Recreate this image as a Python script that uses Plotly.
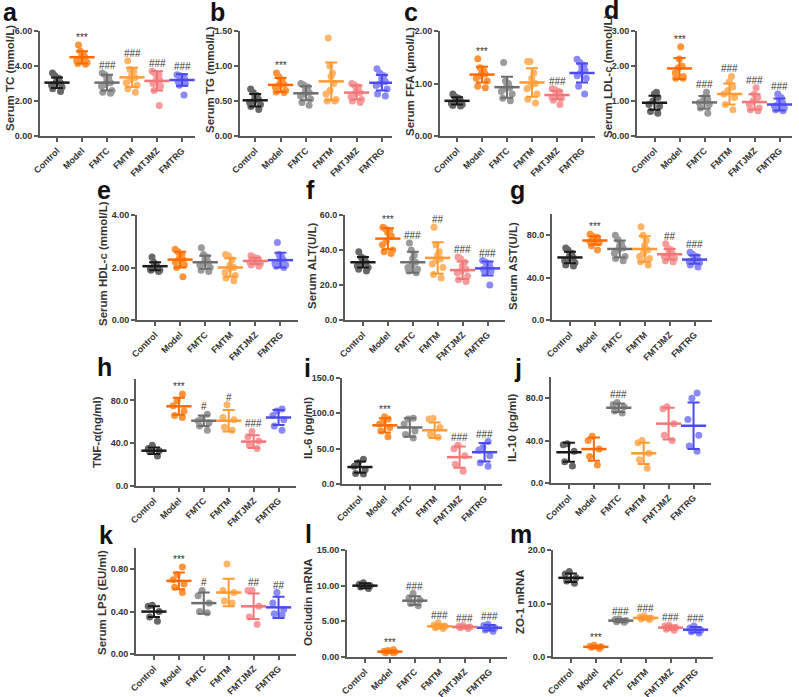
import plotly.graph_objects as go

W, H = 799, 697
groups = ["Control", "Model", "FMTC", "FMTM", "FMTJMZ", "FMTRG"]
mean_colors = ["#1a1a1a", "#ff6a00", "#6e6e6e", "#ff9a30", "#f27676", "#4a4af0"]
dot_colors = ["#686868", "#ff9438", "#9a9a9a", "#ffb468", "#f79a9c", "#8a8af6"]

# ---------------- data ----------------
tc_dots = [[3.6, 3.45, 3.3, 3.15, 3.05, 3.0, 2.9, 2.8, 2.7, 2.55],
           [5.2, 4.85, 4.7, 4.6, 4.5, 4.4, 4.3, 4.2, 4.15, 4.1],
           [3.6, 3.5, 3.35, 3.2, 3.05, 2.95, 2.85, 2.6, 2.5, 2.45],
           [4.3, 3.8, 3.7, 3.5, 3.35, 3.2, 3.05, 2.9, 2.7, 2.5],
           [3.7, 3.6, 3.5, 3.3, 3.2, 3.1, 3.0, 2.85, 2.6, 1.75],
           [3.5, 3.45, 3.4, 3.3, 3.25, 3.2, 3.1, 3.0, 2.9, 2.35]]
tc_mean = [3.05, 4.5, 3.05, 3.35, 3.15, 3.2]
tc_sd = [0.3, 0.35, 0.45, 0.55, 0.55, 0.33]
tc_sig = ["", "***", "###", "###", "###", "###"]

tg_dots = [[0.67, 0.62, 0.58, 0.55, 0.52, 0.5, 0.48, 0.45, 0.42, 0.38],
           [0.9, 0.85, 0.8, 0.76, 0.74, 0.72, 0.7, 0.65, 0.63, 0.62],
           [0.75, 0.73, 0.7, 0.66, 0.62, 0.6, 0.57, 0.53, 0.48, 0.44],
           [1.4, 1.0, 0.9, 0.85, 0.75, 0.65, 0.6, 0.52, 0.5, 0.5],
           [0.75, 0.73, 0.7, 0.66, 0.62, 0.6, 0.56, 0.52, 0.5, 0.48],
           [0.96, 0.9, 0.86, 0.82, 0.78, 0.75, 0.72, 0.67, 0.6, 0.57]]
tg_mean = [0.51, 0.73, 0.61, 0.78, 0.62, 0.76]
tg_sd = [0.09, 0.1, 0.1, 0.27, 0.1, 0.11]
tg_sig = ["", "***", "", "", "", ""]

ffa_dots = [[0.8, 0.75, 0.72, 0.7, 0.68, 0.65, 0.62, 0.6, 0.58, 0.57],
            [1.47, 1.3, 1.25, 1.2, 1.18, 1.15, 1.1, 1.05, 0.95, 0.92],
            [1.4, 1.05, 1.0, 0.95, 0.92, 0.9, 0.85, 0.8, 0.72, 0.67],
            [1.42, 1.42, 1.2, 1.1, 1.0, 0.95, 0.9, 0.8, 0.7, 0.63],
            [0.9, 0.88, 0.85, 0.8, 0.78, 0.76, 0.74, 0.72, 0.68, 0.6],
            [1.46, 1.4, 1.35, 1.3, 1.25, 1.2, 1.15, 1.1, 0.95, 0.8]]
ffa_mean = [0.67, 1.17, 0.93, 1.02, 0.78, 1.2]
ffa_sd = [0.07, 0.15, 0.2, 0.27, 0.08, 0.18]
ffa_sig = ["", "***", "", "", "###", ""]

ldl_dots = [[1.25, 1.2, 1.1, 1.0, 0.9, 0.85, 0.7, 0.65],
            [2.55, 2.2, 2.0, 1.95, 1.8, 1.7, 1.65, 1.65],
            [1.25, 1.1, 1.05, 1.0, 0.95, 0.9, 0.8, 0.65],
            [1.7, 1.55, 1.4, 1.3, 1.2, 1.1, 0.9, 0.75],
            [1.38, 1.2, 1.1, 1.0, 0.9, 0.8, 0.75, 0.72],
            [1.2, 1.1, 1.05, 0.95, 0.9, 0.85, 0.8, 0.75, 0.72]]
ldl_mean = [0.95, 1.93, 0.96, 1.2, 0.97, 0.9]
ldl_sd = [0.2, 0.3, 0.18, 0.3, 0.22, 0.17]
ldl_sig = ["", "***", "###", "###", "###", "###"]

hdl_dots = [[2.4, 2.2, 2.1, 2.05, 2.0, 1.95, 1.9, 1.85, 1.9, 2.0],
            [2.7, 2.6, 2.5, 2.4, 2.3, 2.3, 2.2, 2.1, 2.0, 1.65],
            [2.75, 2.5, 2.4, 2.3, 2.2, 2.15, 2.1, 2.0, 1.9, 1.85],
            [2.5, 2.45, 2.3, 2.1, 2.0, 1.95, 1.8, 1.7, 1.6, 1.5],
            [2.45, 2.4, 2.35, 2.3, 2.25, 2.2, 2.2, 2.15, 2.1, 2.05],
            [2.95, 2.5, 2.4, 2.35, 2.3, 2.2, 2.15, 2.1, 2.05, 2.0]]
hdl_mean = [2.05, 2.3, 2.2, 2.0, 2.25, 2.28]
hdl_sd = [0.15, 0.3, 0.25, 0.35, 0.12, 0.28]
hdl_sig = ["", "", "", "", "", ""]

alt_dots = [[39, 36, 35, 34, 33, 32, 31, 30, 29, 28],
            [53, 52, 51, 50, 48, 45, 43, 40, 39, 38],
            [44, 40, 37, 35, 33, 31, 30, 29, 28, 27],
            [53, 43, 39, 37, 35, 34, 32, 30, 26, 24],
            [36, 35, 33, 31, 29, 28, 27, 25, 23, 22],
            [34, 33, 32, 31, 30, 30, 29, 28, 27, 20]]
alt_mean = [33, 46.5, 33, 35.5, 28.5, 29.5]
alt_sd = [3, 6, 6, 9, 5, 4]
alt_sig = ["", "***", "###", "##", "###", "###"]

ast_dots = [[68, 66, 63, 61, 59, 57, 56, 54, 52, 51],
            [81, 79, 78, 77, 76, 75, 74, 73, 70, 66],
            [80, 76, 72, 70, 68, 66, 63, 60, 58, 56],
            [88, 80, 75, 70, 66, 63, 60, 58, 55, 52],
            [72, 68, 66, 64, 62, 61, 60, 58, 56, 55],
            [64, 62, 60, 58, 57, 56, 55, 54, 52, 50]]
ast_mean = [59, 75, 67, 67, 62, 57]
ast_sd = [5.5, 4, 8, 12, 5, 4]
ast_sig = ["", "***", "", "", "##", "###"]

tnf_dots = [[38, 35, 33, 32, 28],
            [86, 80, 75, 70, 66, 64],
            [67, 63, 61, 59, 56, 52],
            [76, 64, 62, 55, 52],
            [51, 46, 42, 38, 35],
            [72, 70, 66, 62, 56, 52]]
tnf_mean = [33, 74.5, 61, 61, 41.5, 64]
tnf_sd = [3, 8, 5, 10, 6, 7]
tnf_sig = ["", "***", "#", "#", "###", ""]

il6_dots = [[35, 30, 25, 20, 15, 14],
            [95, 92, 88, 85, 80, 75, 67],
            [93, 92, 85, 75, 70, 65],
            [93, 92, 80, 70, 66],
            [55, 50, 40, 28, 18],
            [60, 52, 48, 40, 30, 25]]
il6_mean = [24, 83, 80, 76, 38, 45]
il6_sd = [8, 10, 13, 11, 15, 13]
il6_sig = ["", "***", "", "", "###", "###"]

il10_dots = [[37, 36, 30, 20, 16],
             [44, 40, 32, 25, 17],
             [76, 74, 72, 68, 66],
             [40, 38, 28, 22, 14],
             [72, 70, 56, 45, 40],
             [85, 80, 60, 45, 35, 30]]
il10_mean = [29, 32, 71, 28, 56, 54]
il10_sd = [9, 11, 4, 10, 15, 22]
il10_sig = ["", "", "###", "", "", ""]

lps_dots = [[0.46, 0.45, 0.40, 0.35, 0.31],
            [0.82, 0.75, 0.70, 0.66, 0.63, 0.58],
            [0.60, 0.55, 0.48, 0.40, 0.39],
            [0.85, 0.60, 0.58, 0.50, 0.48],
            [0.60, 0.60, 0.45, 0.35, 0.28],
            [0.58, 0.48, 0.42, 0.38, 0.37]]
lps_mean = [0.40, 0.69, 0.48, 0.58, 0.45, 0.44]
lps_sd = [0.05, 0.08, 0.1, 0.13, 0.12, 0.1]
lps_sig = ["", "***", "#", "", "##", "##"]

occ_dots = [[10.4, 10.2, 10.0, 9.8, 9.6],
            [1.0, 0.9, 0.8, 0.7, 0.6, 0.6],
            [8.9, 8.3, 8.0, 7.5, 7.2],
            [4.8, 4.5, 4.3, 4.1, 4.0],
            [4.4, 4.3, 4.2, 4.1, 4.0],
            [4.6, 4.4, 4.1, 3.8, 3.6]]
occ_mean = [10.0, 0.75, 7.9, 4.3, 4.2, 4.1]
occ_sd = [0.35, 0.15, 0.6, 0.3, 0.2, 0.4]
occ_sig = ["", "***", "###", "###", "###", "###"]

zo_dots = [[16.0, 15.5, 14.8, 14.2, 13.8],
           [2.2, 2.0, 1.9, 1.8, 1.6],
           [7.1, 7.0, 6.8, 6.6, 6.5],
           [7.7, 7.5, 7.3, 7.1, 7.0],
           [6.0, 5.8, 5.5, 5.2, 5.0],
           [5.8, 5.4, 5.0, 4.7, 4.5]]
zo_mean = [14.8, 1.9, 6.8, 7.3, 5.5, 5.1]
zo_sd = [0.8, 0.25, 0.3, 0.3, 0.4, 0.5]
zo_sig = ["", "***", "###", "###", "###", "###"]

# --------------- layout config (pixel boxes) ---------------
panels = [
    dict(letter="a", title="Serum TC (mmol/L)", d=tc_dots, m=tc_mean, s=tc_sd, sig=tc_sig,
         yr=[0, 6], dt=2, fmt=".2f", box=(40, 195, 31, 136), lt=(1, 24), tt=(10, 78), xr=[-0.68, 5.52]),
    dict(letter="b", title="Serum TG (mmol/L)", d=tg_dots, m=tg_mean, s=tg_sd, sig=tg_sig,
         yr=[0, 1.5], dt=0.5, fmt=".2f", box=(240, 392, 31, 136), lt=(208, 24), tt=(210, 80), xr=[-0.6, 5.4]),
    dict(letter="c", title="Serum FFA (μmol/L)", d=ffa_dots, m=ffa_mean, s=ffa_sd, sig=ffa_sig,
         yr=[0, 2], dt=1, fmt=".2f", box=(440, 595, 31, 136), lt=(402, 24), tt=(410, 82), xr=[-0.68, 5.52]),
    dict(letter="d", title="Serum LDL-c (mmol/L)", d=ldl_dots, m=ldl_mean, s=ldl_sd, sig=ldl_sig,
         yr=[0, 3], dt=1, fmt=".2f", box=(637, 792, 31, 136), lt=(602, 22), tt=(608, 77), xr=[-0.7, 5.5]),
    dict(letter="e", title="Serum HDL-c (mmol/L)", d=hdl_dots, m=hdl_mean, s=hdl_sd, sig=hdl_sig,
         yr=[0, 4], dt=2, fmt=".2f", box=(137, 298, 215, 320), lt=(95, 202), tt=(103, 264), xr=[-0.72, 5.7]),
    dict(letter="f", title="Serum ALT(U/L)", d=alt_dots, m=alt_mean, s=alt_sd, sig=alt_sig,
         yr=[0, 60], dt=20, fmt=".1f", box=(345, 505, 215, 320), lt=(304, 202), tt=(312, 266), xr=[-0.72, 5.7]),
    dict(letter="g", title="Serum AST(U/L)", d=ast_dots, m=ast_mean, s=ast_sd, sig=ast_sig,
         yr=[0, 100], dt=40, fmt=".1f", box=(552, 712, 214, 320), lt=(508, 202), tt=(513, 266), xr=[-0.72, 5.7]),
    dict(letter="h", title="TNF-α(ng/ml)", d=tnf_dots, m=tnf_mean, s=tnf_sd, sig=tnf_sig,
         yr=[0, 100], dt=40, fmt=".1f", box=(136, 296, 379, 486), lt=(95, 379), tt=(97, 432), xr=[-0.72, 5.7]),
    dict(letter="i", title="IL-6 (pg/ml)", d=il6_dots, m=il6_mean, s=il6_sd, sig=il6_sig,
         yr=[0, 150], dt=50, fmt=".1f", box=(342, 502, 378, 484), lt=(302, 380), tt=(308, 428), xr=[-0.72, 5.7]),
    dict(letter="j", title="IL-10 (pg/ml)", d=il10_dots, m=il10_mean, s=il10_sd, sig=il10_sig,
         yr=[0, 100], dt=40, fmt=".1f", box=(551, 711, 377, 483), lt=(512, 380), tt=(512, 428), xr=[-0.72, 5.7]),
    dict(letter="k", title="Serum LPS (EU/ml)", d=lps_dots, m=lps_mean, s=lps_sd, sig=lps_sig,
         yr=[0, 1.0], dt=0.4, fmt=".2f", box=(136, 296, 548, 654), lt=(97, 547), tt=(102, 602), xr=[-0.72, 5.7]),
    dict(letter="l", title="Occludin mRNA", d=occ_dots, m=occ_mean, s=occ_sd, sig=occ_sig,
         yr=[0, 15], dt=5, fmt=".2f", box=(347, 507, 550, 657), lt=(303, 546), tt=(308, 602), xr=[-0.72, 5.7]),
    dict(letter="m", title="ZO-1 mRNA", d=zo_dots, m=zo_mean, s=zo_sd, sig=zo_sig,
         yr=[0, 20], dt=10, fmt=".1f", box=(553, 713, 550, 657), lt=(508, 546), tt=(520, 602), xr=[-0.72, 5.7]),
]

FONT = "Arial, Liberation Sans, Helvetica, sans-serif"
AX = "#5a5a5a"

fig = go.Figure()
annotations = []
layout = {}

for k, p in enumerate(panels):
    n = k + 1
    xa = "x" if n == 1 else f"x{n}"
    ya = "y" if n == 1 else f"y{n}"
    x0, x1, yt, yb = p["box"]
    for gi, g in enumerate(groups):
        vals = p["d"][gi]
        fig.add_trace(go.Box(
            x=[gi] * len(vals), y=vals, xaxis=xa, yaxis=ya,
            boxpoints="all", jitter=0.9, pointpos=0, width=0.6,
            fillcolor="rgba(0,0,0,0)", line=dict(width=0, color="rgba(0,0,0,0)"),
            marker=dict(color=dot_colors[gi], size=7, line=dict(width=0)),
            showlegend=False, hoveron="points", name=g))
    for gi, g in enumerate(groups):
        fig.add_trace(go.Scatter(
            x=[gi], y=[p["m"][gi]], xaxis=xa, yaxis=ya, mode="markers",
            marker=dict(symbol="line-ew", size=18, line=dict(width=2.5, color=mean_colors[gi]),
                        color=mean_colors[gi]),
            error_y=dict(type="data", array=[p["s"][gi]], color=mean_colors[gi],
                         thickness=2, width=6),
            showlegend=False, name=g))
        if p["sig"][gi]:
            top = max(max(p["d"][gi]), p["m"][gi] + p["s"][gi])
            annotations.append(dict(
                x=gi, y=top, xref=xa, yref=ya, text=p["sig"][gi], showarrow=False,
                yanchor="bottom", yshift=0,
                font=dict(family=FONT, size=10, color="#333333")))
    yr = p["yr"]
    ticks = []
    v = yr[0]
    while v <= yr[1] + 1e-9:
        ticks.append(round(v, 6))
        v += p["dt"]
    layout["xaxis" if n == 1 else f"xaxis{n}"] = dict(
        domain=[x0 / W, x1 / W], anchor=ya, range=p["xr"], automargin=False,
        tickvals=list(range(len(groups))), ticktext=groups, tickangle=-45,
        showline=True, linecolor=AX, linewidth=2, ticks="outside", ticklen=4,
        tickwidth=2, tickcolor=AX, showgrid=False, zeroline=False,
        tickfont=dict(family=FONT, size=9, color="#333333", weight="bold"))
    layout["yaxis" if n == 1 else f"yaxis{n}"] = dict(
        domain=[1 - yb / H, 1 - yt / H], anchor=xa, range=yr, automargin=False,
        tickvals=ticks, tickformat=p["fmt"],
        showline=True, linecolor=AX, linewidth=2, ticks="outside", ticklen=4,
        tickwidth=2, tickcolor=AX, showgrid=False, zeroline=False,
        tickfont=dict(family=FONT, size=9, color="#333333", weight="bold"))
    lx, ly = p["lt"]
    annotations.append(dict(
        x=lx / W, y=1 - (ly - 12) / H, xref="paper", yref="paper", text=p["letter"],
        showarrow=False, xanchor="left", yanchor="middle",
        font=dict(family=FONT, size=25, color="#111111", weight="bold")))
    tx, ty = p["tt"]
    annotations.append(dict(
        x=tx / W, y=1 - ty / H, xref="paper", yref="paper", text=p["title"],
        showarrow=False, xanchor="center", yanchor="middle", textangle=-90,
        font=dict(family=FONT, size=11.5, color="#333333", weight="bold")))

fig.update_layout(
    template="none",
    width=W, height=H, margin=dict(l=0, r=0, t=0, b=0, autoexpand=False),
    paper_bgcolor="white", plot_bgcolor="white", showlegend=False,
    annotations=annotations, boxmode="overlay", **layout)

fig.write_html("out.html", config={"displayModeBar": False},
               post_script="document.body.style.margin='0';")
